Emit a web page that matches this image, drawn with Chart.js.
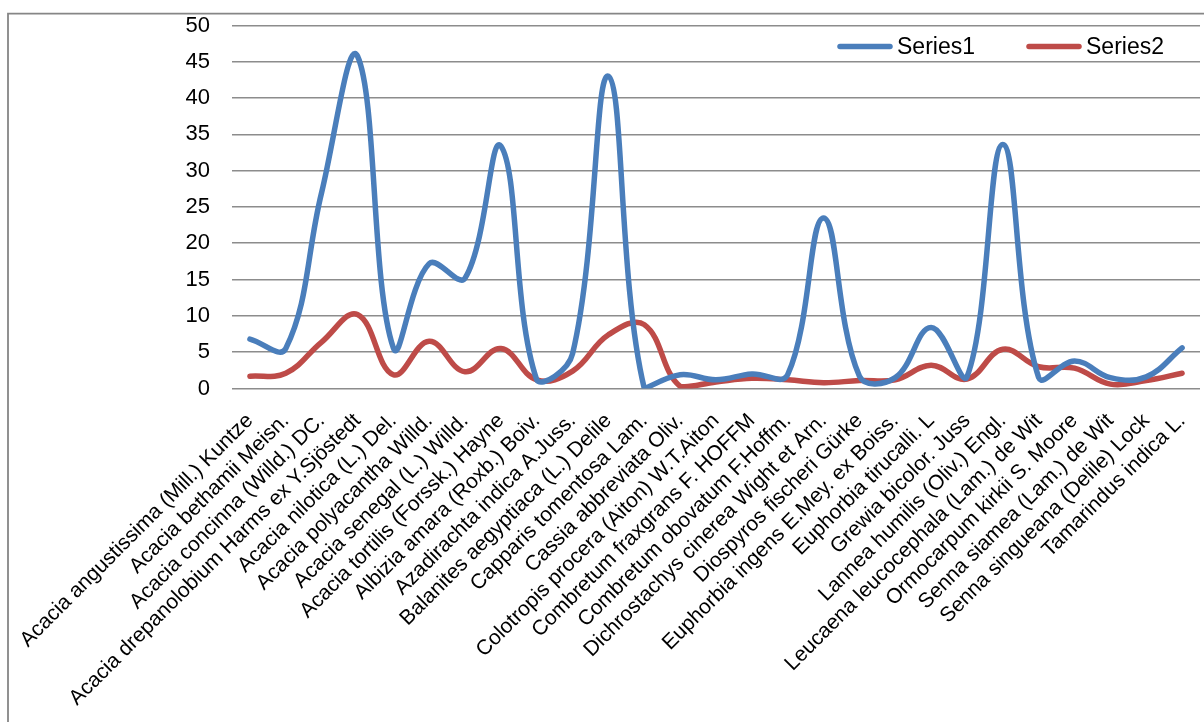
<!DOCTYPE html>
<html>
<head>
<meta charset="utf-8">
<script src="https://cdn.jsdelivr.net/npm/chart.js@4.4.0/dist/chart.umd.min.js"></script>
<style>
  html, body { margin: 0; padding: 0; background: #ffffff; }
  #wrap { position: relative; width: 1204px; height: 722px; }
</style>
</head>
<body>
<div id="wrap"><canvas id="chart" width="1204" height="722"></canvas></div>
<script>
// Plant species along the category axis
const species = [
  "Acacia angustissima (Mill.) Kuntze",
  "Acacia bethamii Meisn.",
  "Acacia concinna (Willd.) DC.",
  "Acacia drepanolobium Harms ex Y.Sjöstedt",
  "Acacia nilotica (L.) Del.",
  "Acacia polyacantha Willd.",
  "Acacia senegal (L.) Willd.",
  "Acacia tortilis (Forssk.) Hayne",
  "Albizia amara (Roxb.) Boiv.",
  "Azadirachta indica A.Juss.",
  "Balanites aegyptiaca (L.) Delile",
  "Capparis tomentosa Lam.",
  "Cassia abbreviata Oliv.",
  "Colotropis procera (Aiton) W.T.Aiton",
  "Combretum fraxgrans F. HOFFM",
  "Combretum obovatum F.Hoffm.",
  "Dichrostachys cinerea Wight et Arn.",
  "Diospyros fischeri Gürke",
  "Euphorbia ingens E.Mey. ex Boiss.",
  "Euphorbia tirucalli. L",
  "Grewia bicolor. Juss",
  "Lannea humilis (Oliv.) Engl.",
  "Leucaena leucocephala (Lam.) de Wit",
  "Ormocarpum kirkii S. Moore",
  "Senna siamea (Lam.) de Wit",
  "Senna singueana (Delile) Lock",
  "Tamarindus indica L."
];

const series1 = [6.8, 5.5, 27, 45.8, 5.6, 17.2, 15.2, 33.4, 1.2, 4.8, 43, 0, 1.9, 1.2, 2.0, 1.9,
                 23.5, 1.7, 1.5, 8.4, 1.6, 33.6, 1.5, 3.8, 1.5, 1.6, 5.6];
const series2 = [1.7, 2.1, 6.4, 10.2, 1.9, 6.5, 2.3, 5.5, 1.2, 2.4, 7.4, 8.8, 0.3, 0.9, 1.4, 1.2,
                 0.8, 1.1, 1.2, 3.2, 1.3, 5.4, 3.0, 2.8, 0.6, 1.1, 2.1];

const yMin = 0, yMax = 50, yStep = 5;

const FONT = "'Liberation Sans', Arial, sans-serif";
const BLUE = '#4a7ebb';
const RED = '#be4b48';

// Plot area edges in canvas pixels
const AREA = { left: 232, top: 25.5, right: 1200, bottom: 388.5 };

// Outer frame (top and left edges of the chart box)
const framePlugin = {
  id: 'frame',
  beforeDraw(chart) {
    const ctx = chart.ctx;
    ctx.save();
    ctx.strokeStyle = '#868686';
    ctx.lineWidth = 1.8;
    ctx.beginPath();
    ctx.moveTo(8, 722);
    ctx.lineTo(8, 13.6);
    ctx.lineTo(1204, 13.6);
    ctx.stroke();
    ctx.restore();
  }
};

// Legend drawn inside the plot, top right
const insideLegend = {
  id: 'insideLegend',
  afterDraw(chart) {
    const ctx = chart.ctx;
    const items = [
      { x: 840, tx: 897 },
      { x: 1029, tx: 1086 }
    ];
    const y = 46.5;
    ctx.save();
    ctx.font = '23px ' + FONT;
    ctx.textBaseline = 'middle';
    ctx.textAlign = 'left';
    chart.data.datasets.forEach((ds, i) => {
      const it = items[i];
      ctx.strokeStyle = ds.borderColor;
      ctx.lineWidth = 5.5;
      ctx.lineCap = 'round';
      ctx.beginPath();
      ctx.moveTo(it.x, y);
      ctx.lineTo(it.x + 50, y);
      ctx.stroke();
      ctx.fillStyle = '#000000';
      ctx.fillText(ds.label, it.tx, y + 1);
    });
    ctx.restore();
  }
};

new Chart(document.getElementById('chart'), {
  type: 'line',
  data: {
    labels: species,
    datasets: [
      {
        label: 'Series1',
        data: series1,
        borderColor: BLUE,
        backgroundColor: BLUE,
        borderWidth: 5.5,
        pointRadius: 0,
        tension: 0.4,
        borderCapStyle: 'round',
        borderJoinStyle: 'round',
        fill: false
      },
      {
        label: 'Series2',
        data: series2,
        borderColor: RED,
        backgroundColor: RED,
        borderWidth: 5.5,
        pointRadius: 0,
        tension: 0.4,
        borderCapStyle: 'round',
        borderJoinStyle: 'round',
        fill: false
      }
    ]
  },
  options: {
    responsive: false,
    animation: false,
    events: [],
    layout: { padding: { left: 0, top: AREA.top, right: 1204 - AREA.right, bottom: 0 } },
    plugins: {
      legend: { display: false },
      tooltip: { enabled: false },
      title: { display: false }
    },
    scales: {
      x: {
        type: 'category',
        offset: true,
        grid: { display: false, drawTicks: false },
        border: { display: false },
        ticks: {
          autoSkip: false,
          minRotation: 45,
          maxRotation: 45,
          padding: 20,
          color: '#000000',
          font: { family: FONT, size: 21 }
        },
        afterFit(scale) {
          scale.height = 722 - AREA.bottom;
          scale.paddingLeft = 0;
          scale.paddingRight = 0;
          scale.paddingTop = 0;
          scale.paddingBottom = 0;
        }
      },
      y: {
        min: yMin,
        max: yMax,
        grid: { color: '#8c8c8c', lineWidth: 1.6, drawTicks: false },
        border: { display: false },
        ticks: {
          stepSize: yStep,
          padding: 22,
          color: '#000000',
          font: { family: FONT, size: 22 }
        },
        afterFit(scale) {
          scale.width = AREA.left;
          scale.paddingTop = 0;
          scale.paddingBottom = 0;
          scale.paddingLeft = 0;
          scale.paddingRight = 0;
        }
      }
    }
  },
  plugins: [framePlugin, insideLegend]
});
</script>
</body>
</html>
